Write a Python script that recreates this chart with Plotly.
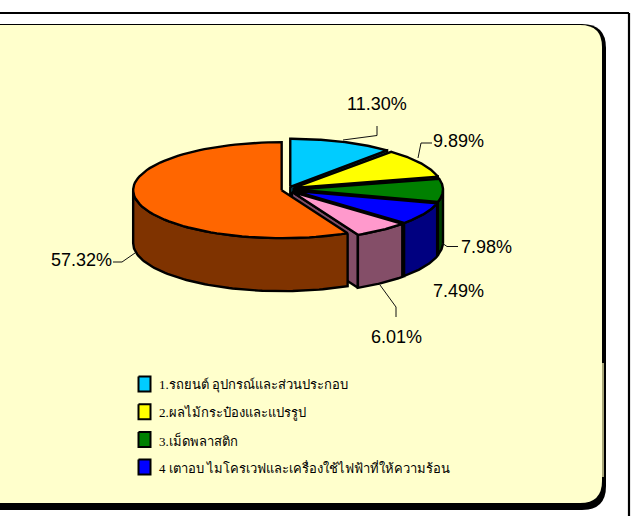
import math
import numpy as np
import plotly.graph_objects as go

W, H = 642, 516
categories = ["1.รถยนต์ อุปกรณ์และส่วนประกอบ", "2.ผลไม้กระป๋องและแปรรูป", "3.เม็ดพลาสติก",
              "4 เตาอบ ไมโครเวฟและเครื่องใช้ไฟฟ้าที่ให้ความร้อน", "5.อื่น ๆ", "6.อื่น ๆ"]
values = [11.30, 9.89, 7.98, 7.49, 6.01, 57.32]
top_colors = ["#00CCFF", "#FFFF00", "#008000", "#0000FF", "#FF99CC", "#FF6600"]
side_colors = ["#006680", "#808000", "#004000", "#000080", "#844E68", "#7F3300"]
legend_count = 4

CX, CY, RX, RY, DEPTH, EXPLODE = 288.0, 189.5, 148.5, 48.0, 53.0, 6.5
FILL_BG = "#FFFFCC"


def geometry():
    total = sum(values)
    start = 0.0
    out = []
    for v in values:
        end = start + v / total * 360
        mid = math.radians((start + end) / 2)
        cx = CX + EXPLODE * math.sin(mid)
        cy = CY - EXPLODE * math.cos(mid) * 0.45
        out.append((start, end, cx, cy))
        start = end
    return out


def arc(cx, cy, a0, a1, n=80):
    t = np.radians(np.linspace(a0, a1, n))
    return cx + RX * np.sin(t), cy - RY * np.cos(t)


def poly(fig, xs, ys, color, width=2.0):
    fig.add_trace(go.Scatter(x=list(xs), y=list(ys), mode="lines", fill="toself",
                             fillcolor=color, line=dict(color="black", width=width),
                             hoverinfo="skip", showlegend=False))


fig = go.Figure()
geo = geometry()

# end cut faces and outer walls, back to front
for (a0, a1, cx, cy), side in zip(geo, side_colors):
    if a1 < 180:
        rx_, ry_ = arc(cx, cy, a1, a1, 1)
        poly(fig, [cx, rx_[0], rx_[0], cx, cx],
             [cy, ry_[0], ry_[0] + DEPTH, cy + DEPTH, cy], side, 2.4)
    lo, hi = max(a0, 90), min(a1, 270)
    if hi > lo:
        x, y = arc(cx, cy, lo, hi)
        poly(fig, np.r_[x, x[::-1], x[0]], np.r_[y, y[::-1] + DEPTH, y[0]], side, 2.4)

# top faces
for (a0, a1, cx, cy), top in zip(geo, top_colors):
    x, y = arc(cx, cy, a0, a1)
    poly(fig, np.r_[cx, x, cx], np.r_[cy, y, cy], top, 2.4)

# legend keys and text
LX, LY0, LDY = 144.5, 384.0, 27.7
for i in range(legend_count):
    y = LY0 + i * LDY
    poly(fig, [LX - 6, LX + 6, LX + 6, LX - 6, LX - 6], [y - 7.5, y - 7.5, y + 7.5, y + 7.5, y - 7.5], top_colors[i], 2)
    fig.add_annotation(x=157, y=y + 1, text=categories[i], showarrow=False, xanchor="left", yanchor="middle",
                       font=dict(family="Liberation Serif, Noto Sans", size=13, color="black"))

# data labels
label_pos = [(377, 104), (458, 141), (486, 247), (458, 291), (396, 337), (81, 260)]
for v, (x, y) in zip(values, label_pos):
    fig.add_annotation(x=x, y=y, text=f"{v:.2f}%", showarrow=False,
                       font=dict(family="Liberation Sans, Arial", size=18, color="black"))

leaders = [
    [(343, 140), (377, 135.5), (377, 126)],
    [(418, 158), (421, 143), (432, 143)],
    [(442, 243), (447, 246.5), (458, 246.5)],
    [(380, 285), (396, 307), (396, 317)],
    [(135, 253), (122, 262), (113, 262)],
]
for pts in leaders:
    fig.add_trace(go.Scatter(x=[p[0] for p in pts], y=[p[1] for p in pts], mode="lines",
                             line=dict(color="#111111", width=1), hoverinfo="skip", showlegend=False))


def rounded(left, top, right, bottom, r):
    return (f"M{left},{top} L{right-r},{top} Q{right},{top} {right},{top+r} "
            f"L{right},{bottom-r} Q{right},{bottom} {right-r},{bottom} L{left},{bottom} Z")


shapes = [
    dict(type="line", x0=0, x1=629, y0=13, y1=13, line=dict(color="black", width=2.2), layer="below"),
    dict(type="line", x0=629, x1=629, y0=13, y1=516, line=dict(color="black", width=2.2), layer="below"),
    dict(type="path", path=rounded(-5, 24, 606, 510, 24), fillcolor="black", line=dict(width=0), layer="below"),
    dict(type="path", path=rounded(-5, 25, 602, 503, 22), fillcolor=FILL_BG, line=dict(width=0), layer="below"),
    dict(type="line", x0=603, x1=603, y0=363, y1=477, line=dict(color="#E0DDA0", width=1.5), layer="below"),
]

fig.update_layout(
    width=W, height=H, margin=dict(l=0, r=0, t=0, b=0), paper_bgcolor="white", plot_bgcolor="white",
    xaxis=dict(range=[0, W], visible=False, fixedrange=True),
    yaxis=dict(range=[H, 0], visible=False, fixedrange=True),
    showlegend=False, shapes=shapes,
)
fig.write_html("out.html", config=dict(displayModeBar=False),
               post_script="document.body.style.margin='0';document.body.style.overflow='hidden';")
